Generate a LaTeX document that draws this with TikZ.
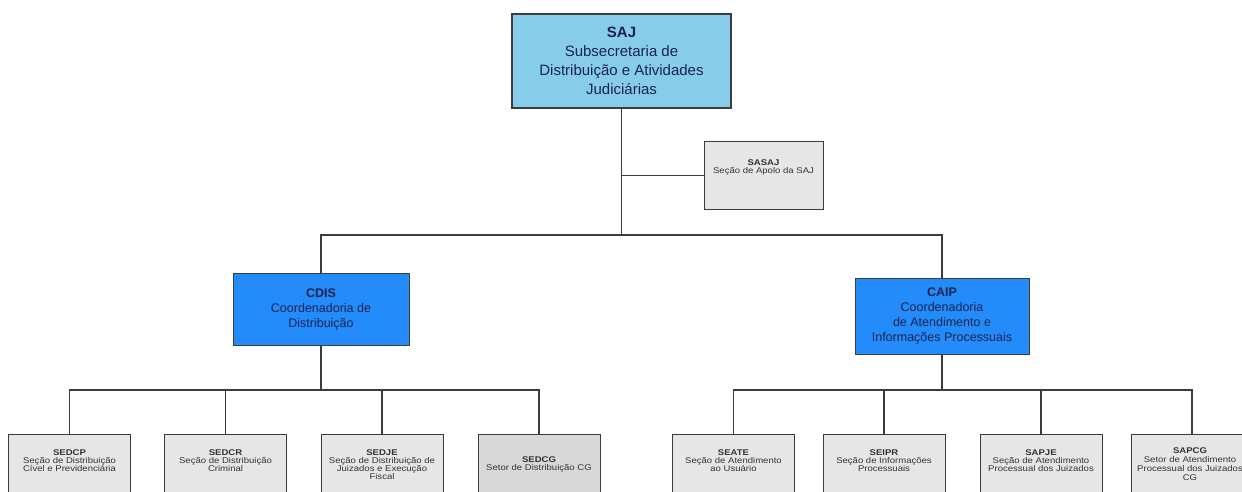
\documentclass[tikz,border=0pt]{standalone}
\usepackage{fontspec}
\setmainfont{Liberation Sans}
\newfontfamily\tinyf[FakeStretch=1.15]{Liberation Sans}
\definecolor{sajblue}{RGB}{135,204,232}
\definecolor{cblue}{RGB}{35,140,250}
\definecolor{gfill}{RGB}{230,230,230}
\definecolor{gfilldark}{RGB}{216,216,216}
\definecolor{navy}{RGB}{25,35,80}
\definecolor{edge}{RGB}{60,60,60}
\definecolor{txt}{RGB}{50,50,50}
\begin{document}
\begin{tikzpicture}[x=1pt,y=-1pt,
 conn/.style={draw=edge, line width=1.1pt},
 box/.style={draw=edge, line width=1pt, inner sep=0pt},
 topbox/.style={box, fill=sajblue, minimum width=219pt, minimum height=94pt, line width=1.3pt,
   align=center, text=navy, font=\fontsize{15}{19}\selectfont},
 coordbox/.style={box, fill=cblue, minimum width=176pt, minimum height=72pt,
   align=center, text=navy, font=\fontsize{12.5}{15}\selectfont},
 gbox/.style={box, fill=gfill, minimum width=122pt, minimum height=80pt, anchor=north},
 tinytext/.style={align=center, text=txt, inner sep=0pt, font=\tinyf\fontsize{8.3}{8}\selectfont},
]
\useasboundingbox (0,0) rectangle (1242,492);
\clip (0,0) rectangle (1242,492);

% top
\node[topbox] (saj) at (621.5,61) {\textbf{SAJ}\\Subsecretaria de\\Distribuição e Atividades\\Judiciárias};
\node[box, fill=gfill, minimum width=119pt, minimum height=67pt] (sasaj) at (763.5,175.5) {};
\node[tinytext] (sasajT) at (763.5,167) {\textbf{SASAJ}\\Seção de Apolo da SAJ};

% coordinators
\node[coordbox] (cdis) at (321,309.5) {\textbf{CDIS}\\Coordenadoria de\\Distribuição};
\node[coordbox, minimum width=174pt, minimum height=76pt] (caip) at (942,316) {\textbf{CAIP}\\Coordenadoria\\de Atendimento e\\Informações Processuais};

% bottom boxes
\node[gbox] (sedcp) at (69.5,434) {};
\node[gbox] (sedcr) at (225.5,434) {};
\node[gbox] (sedje) at (382,434) {};
\node[gbox, fill=gfilldark] (sedcg) at (539,434) {};
\node[gbox] (seate) at (733.5,434) {};
\node[gbox] (seipr) at (884,434) {};
\node[gbox] (sapje) at (1041,434) {};
\node[gbox] (sapcg) at (1192,434) {};

\node[tinytext] (sedcpT) at (69.5,461) {\textbf{SEDCP}\\Seção de Distribuição\\Cível e Previdenciária};
\node[tinytext] (sedcrT) at (225.5,461) {\textbf{SEDCR}\\Seção de Distribuição\\Criminal};
\node[tinytext] (sedjeT) at (382,465) {\textbf{SEDJE}\\Seção de Distribuição de\\Juizados e Execução\\Fiscal};
\node[tinytext] (sedcgT) at (539,464) {\textbf{SEDCG}\\Setor de Distribuição CG};
\node[tinytext] (seateT) at (733.5,461) {\textbf{SEATE}\\Seção de Atendimento\\ao Usuário};
\node[tinytext] (seiprT) at (884,461) {\textbf{SEIPR}\\Seção de Informações\\Processuais};
\node[tinytext] (sapjeT) at (1041,461) {\textbf{SAPJE}\\Seção de Atendimento\\Processual dos Juizados};
\node[tinytext, font=\tinyf\fontsize{8.3}{9}\selectfont] (sapcgT) at (1190,464) {\textbf{SAPCG}\\Setor de Atendimento\\Processual dos Juizados\\CG};

% connectors
\coordinate (h1) at (0,235);
\coordinate (h2) at (0,390);
\draw[conn] (saj.south) -- (saj.south |- h1);
\draw[conn] (saj.south |- sasaj.west) -- (sasaj.west);
\draw[conn] (cdis.north) -- (cdis.north |- h1) -- (caip.north |- h1) -- (caip.north);

\draw[conn] (cdis.south) -- (cdis.south |- h2);
\draw[conn] (sedcp.north) -- (sedcp.north |- h2) -- (sedcg.north |- h2) -- (sedcg.north);
\draw[conn] (sedcr.north) -- (sedcr.north |- h2);
\draw[conn] (sedje.north) -- (sedje.north |- h2);

\draw[conn] (caip.south) -- (caip.south |- h2);
\draw[conn] (seate.north) -- (seate.north |- h2) -- (sapcg.north |- h2) -- (sapcg.north);
\draw[conn] (seipr.north) -- (seipr.north |- h2);
\draw[conn] (sapje.north) -- (sapje.north |- h2);
\end{tikzpicture}
\end{document}
